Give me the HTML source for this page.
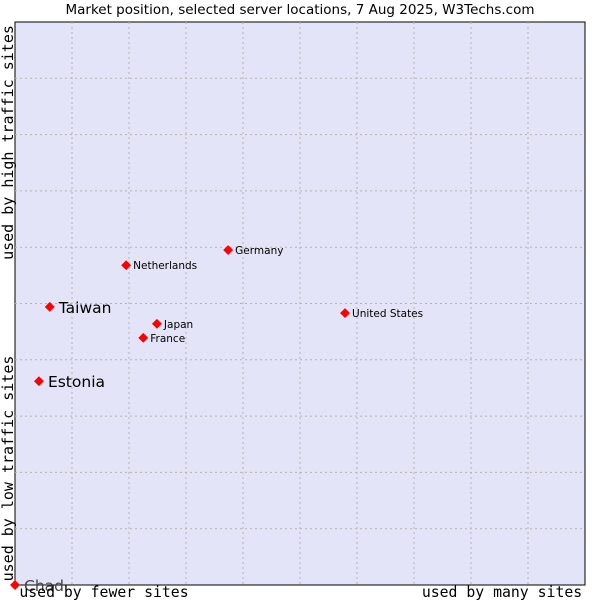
<!DOCTYPE html>
<html><head><meta charset="utf-8"><style>
html,body{margin:0;padding:0;background:#fff;width:600px;height:600px;overflow:hidden}
</style></head><body>
<svg id="chart" width="600" height="600" xmlns="http://www.w3.org/2000/svg">
<text x="300" y="14" text-anchor="middle" font-family="DejaVu Sans, sans-serif" font-size="13.5" fill="#000">Market position, selected server locations, 7 Aug 2025, W3Techs.com</text>
<rect x="15" y="22" width="570" height="563" fill="#e4e4f8" stroke="#000" stroke-width="1"/>
<g id="grid"></g>
<g id="points"></g>
<text x="104" y="597" text-anchor="middle" font-family="DejaVu Sans Mono, monospace" font-size="14.8">used by fewer sites</text>
<text x="502" y="597" text-anchor="middle" font-family="DejaVu Sans Mono, monospace" font-size="14.8">used by many sites</text>
<text transform="translate(13,142.5) rotate(-90)" text-anchor="middle" font-family="DejaVu Sans Mono, monospace" font-size="15">used by high traffic sites</text>
<text transform="translate(13,468.5) rotate(-90)" text-anchor="middle" font-family="DejaVu Sans Mono, monospace" font-size="15">used by low traffic sites</text>
</svg>
<script>
const names=["Chad","Estonia","Taiwan","Netherlands","Germany","Japan","France","United States"];
const xVals=[0,4.2,6.1,19.5,37.4,24.9,22.5,57.9];
const yVals=[0,36.2,49.4,56.8,59.5,46.4,43.9,48.3];
const bigLabel=[true,true,true,false,false,false,false,false];
const NS="http://www.w3.org/2000/svg";
const L=15,R=585,T=22,B=585;
function sx(v){return L+v/100*(R-L);}
function sy(v){return B-v/100*(B-T);}
const grid=document.getElementById('grid');
for(let i=1;i<10;i++){
  const vx=document.createElementNS(NS,'line');
  vx.setAttribute('x1',sx(i*10));vx.setAttribute('x2',sx(i*10));vx.setAttribute('y1',T);vx.setAttribute('y2',B);
  vx.setAttribute('stroke','#b4b4b4');vx.setAttribute('stroke-dasharray','2,3');
  
  
  grid.appendChild(vx);
  const hy=document.createElementNS(NS,'line');
  hy.setAttribute('y1',sy(i*10));hy.setAttribute('y2',sy(i*10));hy.setAttribute('x1',L);hy.setAttribute('x2',R);
  hy.setAttribute('stroke','#b4b4b4');hy.setAttribute('stroke-dasharray','2,3');
  
  
  grid.appendChild(hy);
}
const pts=document.getElementById('points');
names.forEach((n,i)=>{
  const x=sx(xVals[i]),y=sy(yVals[i]);
  const d=document.createElementNS(NS,'rect');
  d.setAttribute('x',x-3.5);d.setAttribute('y',y-3.5);d.setAttribute('width',7);d.setAttribute('height',7);
  d.setAttribute('fill','#f00');d.setAttribute('transform','rotate(45 '+x+' '+y+')');
  
  
  pts.appendChild(d);
  const t=document.createElementNS(NS,'text');
  t.setAttribute('x',x+(bigLabel[i]?9:7));t.setAttribute('y',y+(bigLabel[i]?6:4));
  t.setAttribute('font-family','DejaVu Sans, sans-serif');
  t.setAttribute('font-size',bigLabel[i]?'15.5':'10.5');
  t.setAttribute('fill',n==='Chad'?'#444':'#000');
  t.textContent=n;
  
  
  pts.appendChild(t);
});
</script>
</body></html>
